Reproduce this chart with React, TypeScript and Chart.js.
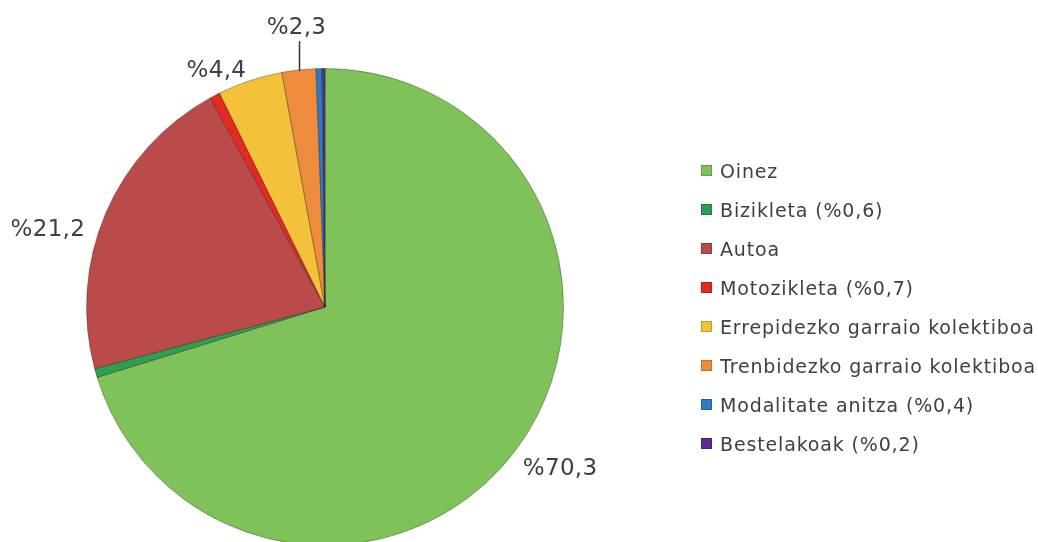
import React, { useEffect, useRef } from "react";
import { Chart, registerables } from "chart.js";

Chart.register(...registerables);

const categories = [
  "Oinez",
  "Bizikleta (%0,6)",
  "Autoa",
  "Motozikleta (%0,7)",
  "Errepidezko garraio kolektiboa",
  "Trenbidezko garraio kolektiboa",
  "Modalitate anitza (%0,4)",
  "Bestelakoak (%0,2)",
];
const shares = [70.3, 0.6, 21.2, 0.7, 4.4, 2.3, 0.4, 0.2];
const sliceLabels = ["%70,3", "", "%21,2", "", "%4,4", "%2,3", "", ""];
const colors = [
  "#80c25a",
  "#2f9e52",
  "#bb4a4a",
  "#e42a20",
  "#f3c23a",
  "#ef8b3c",
  "#2b7cc2",
  "#5a2e8f",
];

const FONT = '"DejaVu Sans", Verdana, sans-serif';
const TEXT_COLOR = "#404040";

// per-label placement tweaks (distance beyond rim, nudge x, nudge y, leader line)
const labelPlacement: Record<number, { d: number; dx: number; dy: number; leader?: boolean }> = {
  0: { d: 40, dx: 11, dy: -3 },
  2: { d: 40, dx: -21, dy: 32 },
  4: { d: 40, dx: -21, dy: 28 },
  5: { d: 40, dx: 2, dy: -2, leader: true },
};

const sliceLabelPlugin = {
  id: "sliceLabels",
  afterDatasetsDraw(chart: any) {
    const ctx = chart.ctx;
    const meta = chart.getDatasetMeta(0);
    ctx.save();
    meta.data.forEach((arc: any, i: number) => {
      const text = sliceLabels[i];
      if (!text) return;
      const p = arc.getProps(["x", "y", "startAngle", "endAngle", "outerRadius"], true);
      const mid = (p.startAngle + p.endAngle) / 2;
      const cos = Math.cos(mid);
      const sin = Math.sin(mid);
      const pl = labelPlacement[i] || { d: 40, dx: 0, dy: 0 };
      const lx = p.x + (p.outerRadius + pl.d) * cos + pl.dx;
      const ly = p.y + (p.outerRadius + pl.d) * sin + pl.dy;
      if (pl.leader) {
        const rx = Math.round(p.x + p.outerRadius * cos) + 0.5;
        const ry = p.y + p.outerRadius * sin;
        ctx.strokeStyle = "#333333";
        ctx.lineWidth = 1.5;
        ctx.beginPath();
        ctx.moveTo(rx, ry + 1);
        ctx.lineTo(rx, ly + 13);
        ctx.stroke();
      }
      ctx.fillStyle = TEXT_COLOR;
      ctx.font = `23px ${FONT}`;
      (ctx as any).letterSpacing = "0.3px";
      ctx.textAlign = "center";
      ctx.textBaseline = "middle";
      ctx.fillText(text, lx, ly);
    });
    ctx.restore();
  },
};

const legendPlugin = {
  id: "sideLegend",
  afterDraw(chart: any) {
    const ctx = chart.ctx;
    ctx.save();
    const x0 = 701;
    const y0 = 172;
    const step = 39;
    categories.forEach((label, i) => {
      const y = y0 + i * step;
      ctx.fillStyle = colors[i];
      ctx.fillRect(x0, y - 7, 11, 11);
      ctx.strokeStyle = "rgba(0,0,0,0.2)";
      ctx.lineWidth = 1;
      ctx.strokeRect(x0 + 0.5, y - 6.5, 10, 10);
      ctx.fillStyle = TEXT_COLOR;
      ctx.font = `19px ${FONT}`;
      (ctx as any).letterSpacing = "0.85px";
      ctx.textAlign = "left";
      ctx.textBaseline = "middle";
      ctx.fillText(label, 720, y + 1);
    });
    ctx.restore();
  },
};

export default function App() {
  const ref = useRef<HTMLCanvasElement | null>(null);
  useEffect(() => {
    if (!ref.current) return;
    const chart = new Chart(ref.current, {
      type: "pie",
      data: {
        labels: categories,
        datasets: [
          {
            data: shares,
            backgroundColor: colors,
            borderColor: "rgba(0,0,0,0.3)",
            borderWidth: 1,
            hoverOffset: 0,
          },
        ],
      },
      options: {
        responsive: false,
        animation: false,
        events: [],
        layout: { padding: { left: 86, right: 474, top: 68, bottom: 54 } },
        plugins: {
          legend: { display: false },
          tooltip: { enabled: false },
          title: { display: false },
        },
      },
      plugins: [sliceLabelPlugin, legendPlugin],
    });
    return () => chart.destroy();
  }, []);
  return (
    <div style={{ position: "fixed", left: 0, top: 0, width: 1038, height: 600, background: "#ffffff" }}>
      <canvas ref={ref} width={1038} height={600} style={{ display: "block", width: 1038, height: 600 }} />
    </div>
  );
}
